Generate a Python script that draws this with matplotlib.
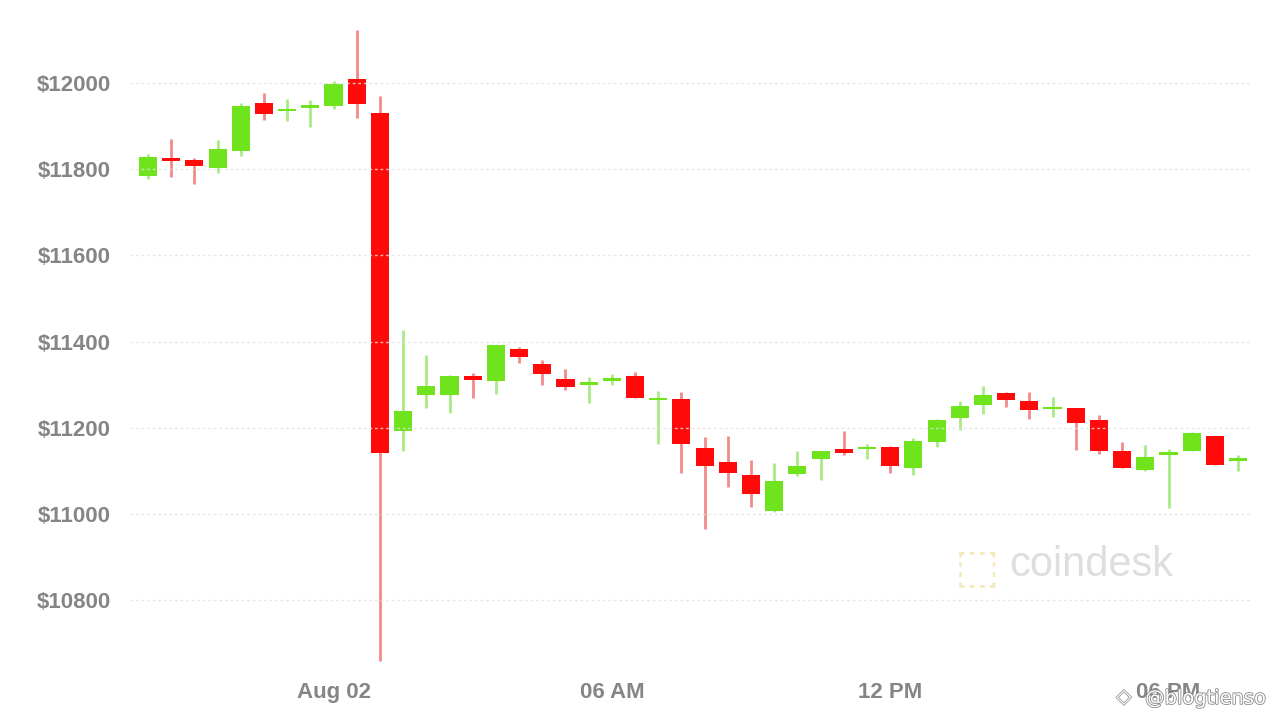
import matplotlib
matplotlib.use("Agg")
import matplotlib.pyplot as plt
import matplotlib.dates as mdates
import matplotlib.patheffects as pe
import numpy as np
import pandas as pd

# 30-minute BTC/USD candles, Aug 01 20:00 -> Aug 02 19:30
times = pd.date_range("2020-08-01 20:00", periods=48, freq="30min")

opens = [11785, 11822, 11821, 11803, 11842, 11954, 11934, 11943, 11947, 12010,
         11930, 11193, 11275, 11276, 11320, 11309, 11383, 11348, 11313, 11300,
         11309, 11320, 11264, 11267, 11152, 11120, 11090, 11008, 11093, 11128,
         11150, 11150, 11155, 11107, 11168, 11222, 11253, 11281, 11263, 11243,
         11245, 11218, 11147, 11101, 11137, 11147, 11180, 11123]
closes = [11828, 11820, 11808, 11847, 11946, 11928, 11936, 11946, 11998, 11951,
          11142, 11240, 11297, 11320, 11312, 11392, 11365, 11325, 11295, 11305,
          11312, 11270, 11270, 11162, 11112, 11095, 11046, 11077, 11111, 11145,
          11141, 11154, 11112, 11170, 11218, 11251, 11276, 11265, 11242, 11246,
          11212, 11145, 11106, 11133, 11144, 11187, 11114, 11127]
highs = [11835, 11870, 11826, 11868, 11954, 11977, 11963, 11961, 12005, 12123,
         11970, 11428, 11369, 11322, 11326, 11393, 11388, 11357, 11337, 11318,
         11325, 11330, 11285, 11282, 11179, 11180, 11125, 11119, 11145, 11147,
         11192, 11163, 11158, 11176, 11220, 11263, 11297, 11283, 11284, 11272,
         11247, 11230, 11166, 11160, 11151, 11190, 11181, 11137]
lows = [11778, 11782, 11766, 11791, 11830, 11914, 11912, 11898, 11940, 11919,
        10660, 11145, 11246, 11234, 11268, 11278, 11350, 11299, 11288, 11258,
        11299, 11270, 11162, 11095, 10965, 11063, 11016, 11005, 11088, 11079,
        11137, 11128, 11095, 11090, 11156, 11195, 11232, 11249, 11220, 11226,
        11149, 11139, 11106, 11100, 11013, 11146, 11113, 11100]

yticks = [10800, 11000, 11200, 11400, 11600, 11800, 12000]
xtick_times = ["2020-08-02 00:00", "2020-08-02 06:00", "2020-08-02 12:00", "2020-08-02 18:00"]
xtick_labels = ["Aug 02", "06 AM", "12 PM", "06 PM"]

UP = "#6fe31c"
DOWN = "#ff0a0a"
UP_WICK = "#a9ea86"
DOWN_WICK = "#f28a8a"

o = np.array(opens, dtype=float)
c = np.array(closes, dtype=float)
h = np.array(highs, dtype=float)
l = np.array(lows, dtype=float)
x = mdates.date2num(times)
step = 1 / 48
up = c >= o

fig = plt.figure(figsize=(12.8, 7.2), dpi=100)
ax = fig.add_axes([130 / 1280, 55 / 720, 1122 / 1280, 645 / 720])

ax.vlines(x[up], l[up], h[up], color=UP_WICK, linewidth=2, zorder=1)
ax.vlines(x[~up], l[~up], h[~up], color=DOWN_WICK, linewidth=2, zorder=1)

body_low = np.minimum(o, c)
body_h = np.maximum(np.abs(c - o), 6)
ax.bar(x[up], body_h[up], bottom=body_low[up], width=step * 0.78,
       color=UP, edgecolor="none", zorder=2)
ax.bar(x[~up], body_h[~up], bottom=body_low[~up], width=step * 0.78,
       color=DOWN, edgecolor="none", zorder=2)

ax.set_xlim(x[0] - 0.776 * step, x[-1] + 0.6 * step)
ax.set_ylim(10649.6, 12146.2)

ax.set_yticks(yticks)
ax.set_yticklabels([f"${v}" for v in yticks], fontsize=16, fontweight="bold",
                   color="#858585", family="Liberation Sans")
ax.set_xticks(mdates.date2num(pd.to_datetime(xtick_times)))
ax.set_xticklabels(xtick_labels, fontsize=16, fontweight="bold", color="#858585",
                   family=["Liberation Sans Narrow", "Liberation Sans"])
ax.tick_params(axis="both", length=0)
ax.tick_params(axis="y", pad=14)
ax.tick_params(axis="x", pad=12)

ax.set_axisbelow(False)
ax.grid(axis="y", color="#e2e2e2", linestyle=(0, (2, 2)), linewidth=1, alpha=0.8)
ax.grid(axis="x", visible=False)
for s in ax.spines.values():
    s.set_visible(False)

# faded watermarks
ax.text(0.755, 0.150, "\u2b1a", transform=ax.transAxes, fontsize=34,
        color="#f5e9bd", ha="center", va="center", family="DejaVu Sans",
        fontweight="bold")
ax.text(0.8565, 0.155, "coindesk", transform=ax.transAxes, fontsize=30,
        color="#dedede", ha="center", va="center", family="Liberation Sans")
fig.text(0.878, 0.032, "\u25c7", fontsize=14, color="white", ha="center",
         va="center", family="DejaVu Sans",
         path_effects=[pe.withStroke(linewidth=1.2, foreground="#9a9a9a")])
fig.text(0.942, 0.030, "@blogtienso", fontsize=14, color="white",
         ha="center", va="center", family="DejaVu Sans",
         path_effects=[pe.withStroke(linewidth=1.2, foreground="#8a8a8a")])

fig.savefig("out.png", dpi=100, facecolor="white")
